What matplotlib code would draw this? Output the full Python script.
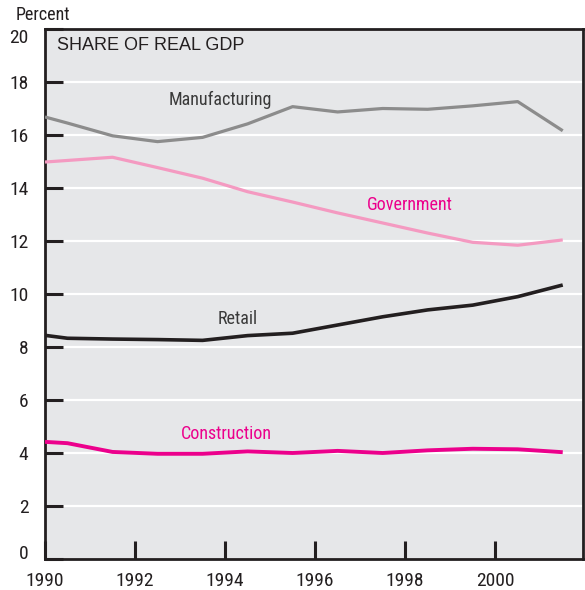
import matplotlib
matplotlib.use("Agg")
import matplotlib.pyplot as plt
from matplotlib import font_manager

years = [1990, 1990.5, 1991.5, 1992.5, 1993.5, 1994.5, 1995.5, 1996.5,
         1997.5, 1998.5, 1999.5, 2000.5, 2001.5]
manufacturing = [16.68, 16.45, 15.97, 15.75, 15.91, 16.42, 17.07, 16.87,
                 17.00, 16.97, 17.10, 17.26, 16.16]
government = [14.98, 15.04, 15.16, 14.77, 14.37, 13.86, 13.47, 13.06,
              12.68, 12.30, 11.95, 11.84, 12.04]
retail = [8.44, 8.33, 8.30, 8.28, 8.25, 8.43, 8.52, 8.83,
          9.14, 9.40, 9.58, 9.90, 10.34]
construction = [4.42, 4.37, 4.04, 3.97, 3.97, 4.06, 4.00, 4.08,
                4.00, 4.10, 4.16, 4.14, 4.03]
xticks = [1990, 1992, 1994, 1996, 1998, 2000]
yticks = [0, 2, 4, 6, 8, 10, 12, 14, 16, 18, 20]

# pick a condensed sans font file if one is installed
pref = ['Liberation Sans Narrow', 'Roboto Condensed', 'Open Sans Condensed',
        'Noto Sans', 'DejaVu Sans', 'Open Sans', 'Roboto']
cands = []
for f in font_manager.fontManager.ttflist:
    st = str(f.stretch)
    fn = f.fname.lower()
    is_cond = (st in ('condensed', 'semi-condensed', 'extra-condensed')
               or 'condensed' in fn or 'narrow' in fn or 'Narrow' in f.name
               or 'Condensed' in f.name)
    if not is_cond:
        continue
    if f.style != 'normal':
        continue
    if f.weight not in (400, 'normal', 'regular'):
        continue
    if 'mono' in fn or ('serif' in fn and 'sans' not in fn):
        continue
    rank = len(pref)
    for i, p in enumerate(pref):
        if f.name.startswith(p):
            rank = i
            break
    extra = 0 if ('semi' not in fn and 'extra' not in fn) else 1
    cands.append((rank, extra, f.fname))
cands.sort()
if cands:
    cond = font_manager.FontProperties(fname=cands[0][2])
else:
    cond = font_manager.FontProperties(family='DejaVu Sans')

DARK = '#231F20'
BG = '#E6E7E9'

fig = plt.figure(figsize=(5.85, 5.9), dpi=100)
ax = fig.add_axes([45/585, 1-559/590, (583-45)/585, (559-29)/590])
ax.set_facecolor(BG)
ax.set_xlim(1990, 2001.95)
ax.set_ylim(0, 20)

for y in yticks[1:-1]:
    ax.axhline(y, color='white', lw=1.6, zorder=1)

ax.plot(years, manufacturing, color='#8C8C8C', lw=2.3, zorder=3, solid_capstyle='butt')
ax.plot(years, government, color='#F49AC1', lw=2.3, zorder=3, solid_capstyle='butt')
ax.plot(years, retail, color=DARK, lw=2.6, zorder=3, solid_capstyle='butt')
ax.plot(years, construction, color='#EC008C', lw=2.8, zorder=3, solid_capstyle='butt')

def fp(size):
    p = cond.copy()
    p.set_size(size)
    return p

lab_fs = 13
ax.text(1993.89, 17.32, 'Manufacturing', color='#3A3A3A', fontproperties=fp(lab_fs), ha='center', va='center')
ax.text(1998.11, 13.36, 'Government', color='#EC008C', fontproperties=fp(lab_fs), ha='center', va='center')
ax.text(1994.29, 9.06, 'Retail', color='#3A3A3A', fontproperties=fp(lab_fs), ha='center', va='center')
ax.text(1994.02, 4.72, 'Construction', color='#EC008C', fontproperties=fp(lab_fs), ha='center', va='center')

fig.text(57/585, 1-45/590, 'SHARE OF REAL GDP', fontsize=13, color=DARK,
         ha='left', va='center', family=['Liberation Sans', 'DejaVu Sans'])
fig.text(16/585, 1-15/590, 'Percent', fontproperties=fp(13), color=DARK, ha='left', va='center')

for s in ax.spines.values():
    s.set_color(DARK)
    s.set_linewidth(2.0)

ax.set_xticks(xticks)
ax.set_xticklabels([str(x) for x in xticks])
ax.set_yticks(yticks)
ax.set_yticklabels([str(y) for y in yticks])
ax.tick_params(axis='both', direction='in', length=13, width=2.2, color=DARK,
               labelcolor=DARK)
ax.tick_params(axis='y', pad=12)
ax.tick_params(axis='x', pad=9)
for lab in ax.get_xticklabels() + ax.get_yticklabels():
    lab.set_fontproperties(fp(14))
ylabs = ax.get_yticklabels()
ylabs[0].set_va('baseline')
ylabs[-1].set_va('top')

fig.savefig('out.png', dpi=100, facecolor='white')
